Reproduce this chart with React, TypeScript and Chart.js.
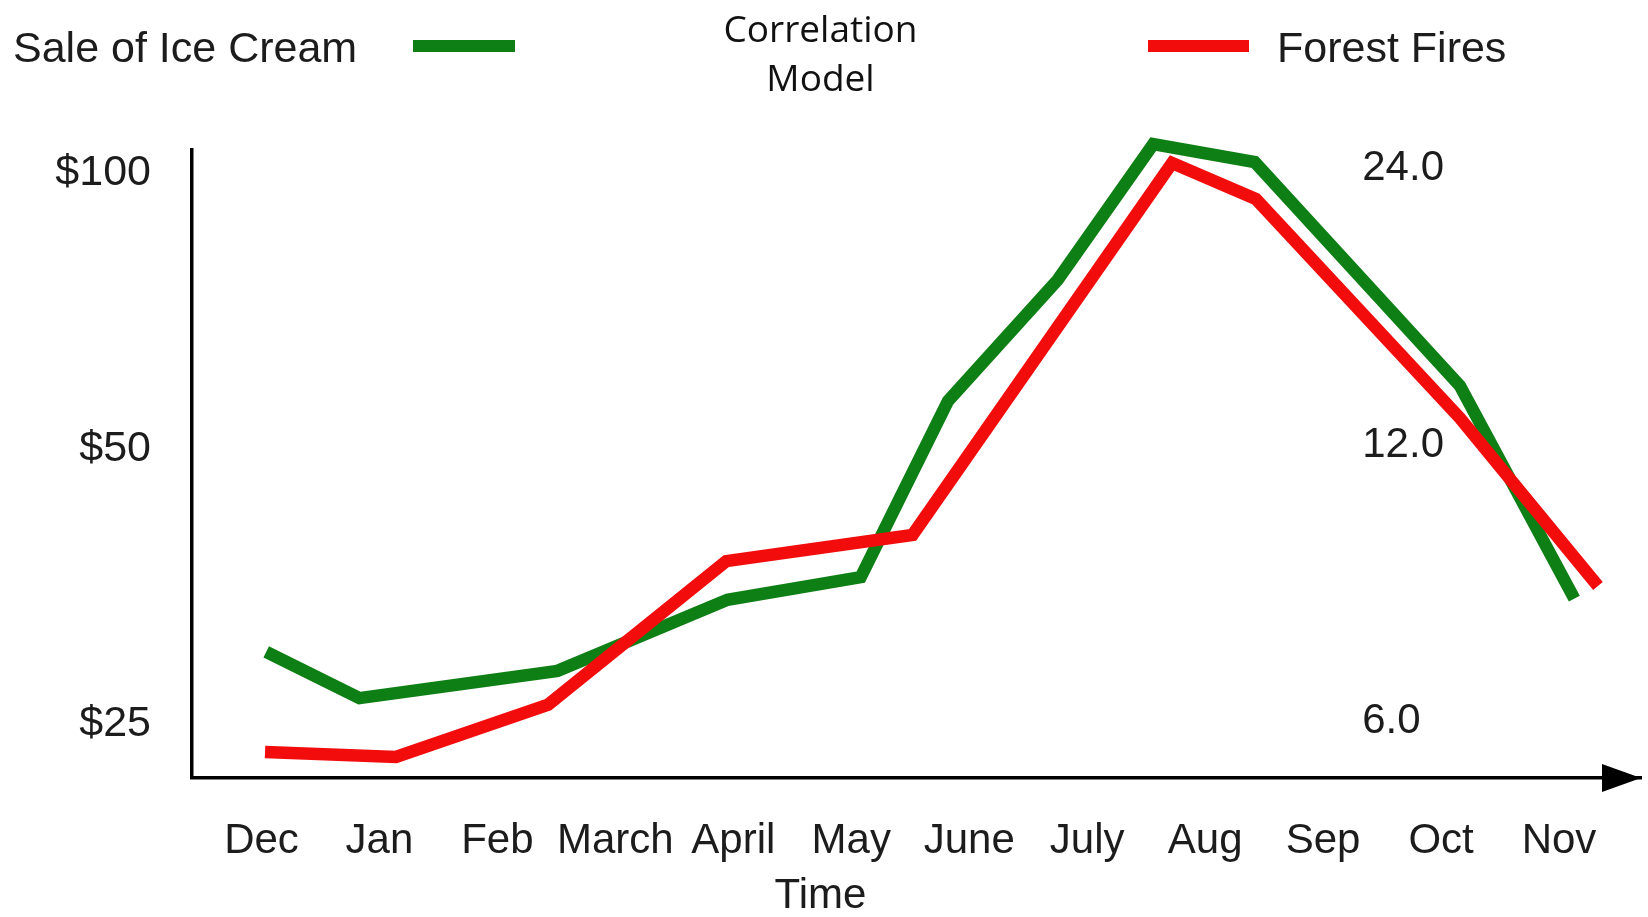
import React, { useEffect, useRef } from 'react';
import { Chart, registerables } from 'chart.js';

Chart.register(...registerables);

// ---- data ----
const monthLabels = ['Dec', 'Jan', 'Feb', 'March', 'April', 'May', 'June', 'July', 'Aug', 'Sep', 'Oct', 'Nov'];

const leftTickValues = [25, 50, 100];
const leftTickLabels = ['$25', '$50', '$100'];
const rightTickValues = [6, 12, 24];
const rightTickLabels = ['6.0', '12.0', '24.0'];

const iceCreamLabel = 'Sale of Ice Cream';
const iceCreamTime = [0.04, 0.83, 2.51, 3.95, 5.08, 5.82, 6.75, 7.56, 8.42, 10.16, 11.13];
const iceCreamSales = [30.0, 26.7, 28.6, 34.2, 36.2, 56.4, 76.5, 107.7, 102.9, 58.6, 34.3];

const fireLabel = 'Forest Fires';
const fireTime = [0.03, 1.14, 2.43, 3.94, 5.52, 7.72, 8.43, 10.16, 11.33];
const fireCount = [5.56, 5.49, 6.26, 8.97, 9.58, 24.34, 22.24, 12.84, 8.43];

const titleLines = ['Correlation', 'Model'];
const xTitle = 'Time';

const GREEN = 'rgb(14,127,20)';
const RED = 'rgb(243,12,12)';
const TEXT = '#1c1c1c';
const FONT = 'Liberation Sans';

const decorations = {
  id: 'decorations',
  afterDraw(chart: any) {
    const { ctx, chartArea } = chart;
    ctx.save();
    // arrow head on x axis
    const ay = chartArea.bottom;
    ctx.fillStyle = '#000';
    ctx.beginPath();
    ctx.moveTo(chartArea.right, ay);
    ctx.lineTo(chartArea.right - 39, ay - 14);
    ctx.lineTo(chartArea.right - 39, ay + 14);
    ctx.closePath();
    ctx.fill();

    // custom legend
    const ds = chart.data.datasets;
    const green = ds.find((d: any) => d.label === iceCreamLabel);
    const red = ds.find((d: any) => d.label === fireLabel);
    ctx.font = `43px "${FONT}"`;
    ctx.fillStyle = TEXT;
    ctx.textBaseline = 'middle';
    ctx.textAlign = 'left';
    ctx.fillText(green.label, 13, 50);
    ctx.fillText(red.label, 1277, 50);
    ctx.lineWidth = 12;
    ctx.lineCap = 'butt';
    ctx.strokeStyle = green.borderColor;
    ctx.beginPath();
    ctx.moveTo(413, 46);
    ctx.lineTo(515, 46);
    ctx.stroke();
    ctx.strokeStyle = red.borderColor;
    ctx.beginPath();
    ctx.moveTo(1148, 46);
    ctx.lineTo(1249, 46);
    ctx.stroke();
    ctx.restore();
  },
};

export default function App() {
  const ref = useRef<HTMLCanvasElement | null>(null);

  useEffect(() => {
    if (!ref.current) return;
    const chart = new Chart(ref.current, {
      type: 'line',
      data: {
        datasets: [
          {
            label: iceCreamLabel,
            data: iceCreamTime.map((t, i) => ({ x: t, y: iceCreamSales[i] })),
            borderColor: GREEN,
            backgroundColor: GREEN,
            borderWidth: 12.5,
            pointRadius: 0,
            tension: 0,
            clip: false as any,
            yAxisID: 'y',
            order: 2,
          },
          {
            label: fireLabel,
            data: fireTime.map((t, i) => ({ x: t, y: fireCount[i] })),
            borderColor: RED,
            backgroundColor: RED,
            borderWidth: 12.5,
            pointRadius: 0,
            tension: 0,
            clip: false as any,
            yAxisID: 'y2',
            order: 1,
          },
        ],
      },
      options: {
        responsive: false,
        animation: false,
        layout: { padding: { left: 0, right: 7, top: 0, bottom: 0 } },
        plugins: {
          legend: { display: false },
          tooltip: { enabled: false },
          title: {
            display: true,
            text: titleLines,
            color: '#111',
            font: { family: 'Open Sans', size: 37, weight: 'normal', lineHeight: 1.32 },
            padding: { top: 7, bottom: 45.3 },
          },
          subtitle: {
            display: true,
            position: 'bottom',
            text: xTitle,
            color: TEXT,
            font: { family: FONT, size: 42, weight: 'normal', lineHeight: 1 },
            padding: { top: 10, bottom: 0 },
          },
        },
        scales: {
          x: {
            type: 'linear',
            min: -0.589,
            max: 11.695,
            bounds: 'data',
            grid: { display: false, drawTicks: false },
            border: { display: true, color: '#000', width: 3.5 },
            ticks: {
              autoSkip: false,
              maxRotation: 0,
              padding: 38,
              color: TEXT,
              font: { family: FONT, size: 42 },
              callback: (_v: any, i: number) => monthLabels[i],
            },
            afterBuildTicks: (s: any) => {
              s.ticks = monthLabels.map((_, i) => ({ value: i }));
            },
            afterFit: (s: any) => {
              s.height = 87;
            },
          },
          y: {
            type: 'logarithmic',
            position: 'left',
            min: 21.84,
            max: 106.1,
            bounds: 'data',
            grid: { display: false, drawTicks: false },
            border: { display: true, color: '#000', width: 3.5 },
            ticks: {
              autoSkip: false,
              padding: 41,
              color: TEXT,
              font: { family: FONT, size: 43 },
              callback: (_v: any, i: number) => leftTickLabels[i],
            },
            afterBuildTicks: (s: any) => {
              s.ticks = leftTickValues.map((v) => ({ value: v }));
            },
            afterFit: (s: any) => {
              s.width = 192;
            },
          },
          y2: {
            type: 'logarithmic',
            position: 'right',
            min: 5.208,
            max: 25.15,
            bounds: 'data',
            grid: { display: false, drawTicks: false },
            border: { display: false },
            ticks: {
              autoSkip: false,
              mirror: true,
              crossAlign: 'far',
              padding: -197,
              color: TEXT,
              font: { family: FONT, size: 42 },
              callback: (_v: any, i: number) => rightTickLabels[i],
            },
            afterBuildTicks: (s: any) => {
              s.ticks = rightTickValues.map((v) => ({ value: v }));
            },
            afterFit: (s: any) => {
              s.width = 0;
            },
          },
        },
      } as any,
      plugins: [decorations],
    });
    return () => chart.destroy();
  }, []);

  return (
    <div style={{ position: 'absolute', left: 0, top: 0, width: 1648, height: 917, background: '#fff' }}>
      <canvas ref={ref} width={1648} height={917} style={{ display: 'block' }} />
    </div>
  );
}
